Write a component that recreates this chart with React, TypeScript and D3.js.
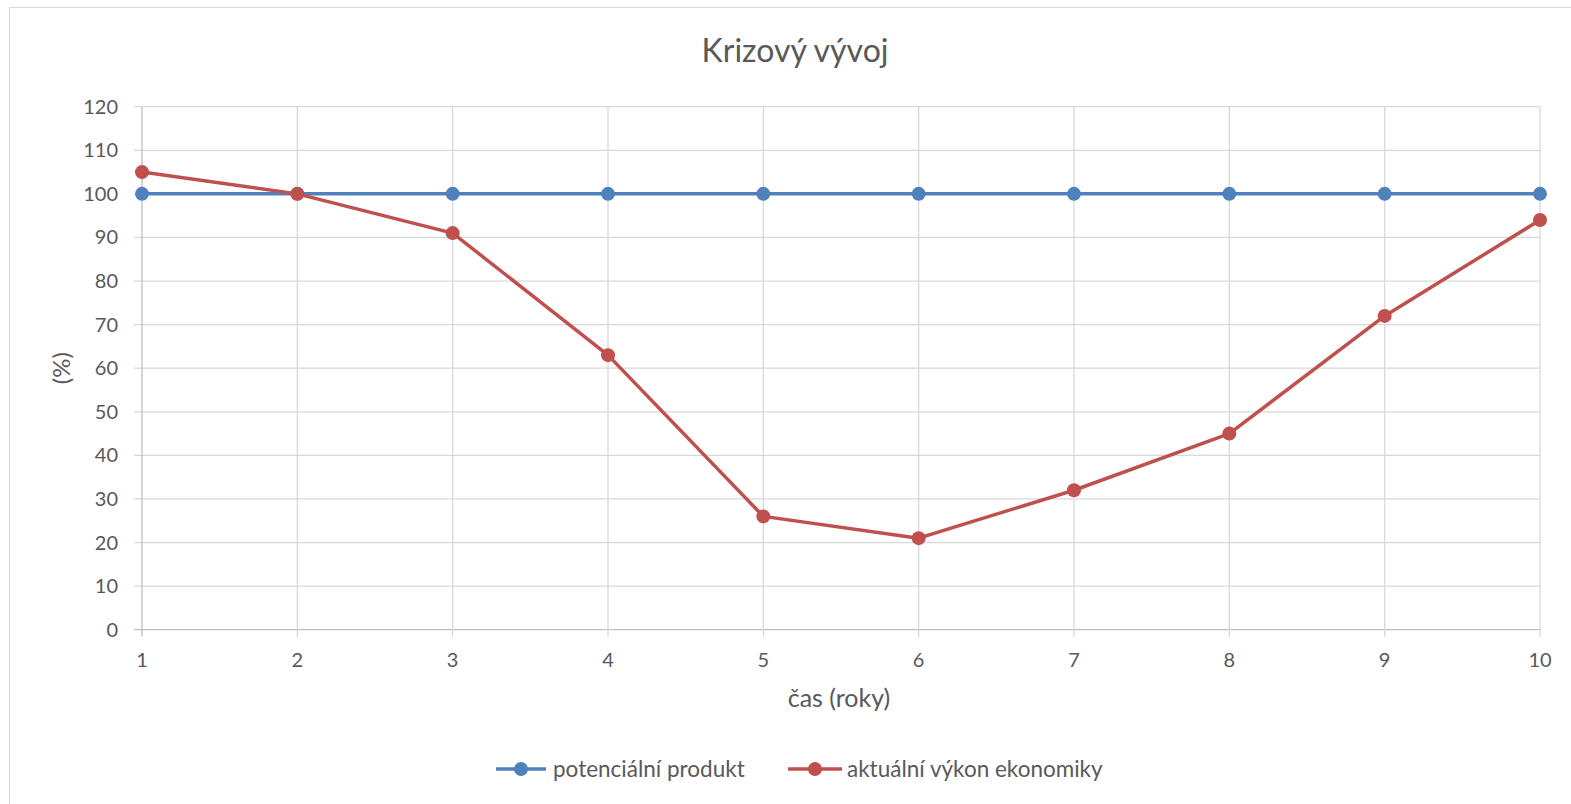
import React from "react";
import * as d3 from "d3";

const years = [1, 2, 3, 4, 5, 6, 7, 8, 9, 10];
const potencialni = [100, 100, 100, 100, 100, 100, 100, 100, 100, 100];
const aktualni = [105, 100, 91, 63, 26, 21, 32, 45, 72, 94];
const yTicks = [0, 10, 20, 30, 40, 50, 60, 70, 80, 90, 100, 110, 120];
const seriesNames = ["potenciální produkt", "aktuální výkon ekonomiky"];
const colors = ["#4F81BD", "#C0504D"];

const W = 1571;
const H = 804;
const left = 142;
const right = 1540;
const top = 106.7;
const bottom = 629.7;
const font = "Lato, 'Open Sans', sans-serif";
const textColor = "#595959";

export default function App() {
  const x = d3.scaleLinear().domain([1, 10]).range([left, right]);
  const y = d3.scaleLinear().domain([0, 120]).range([bottom, top]);
  const line = d3
    .line<number>()
    .x((_, i) => x(years[i]))
    .y((d) => y(d));
  const series = [potencialni, aktualni];

  return (
    <svg
      width={W}
      height={H}
      style={{ position: "absolute", left: 0, top: 0, background: "#fff" }}
    >
      <rect x={9.5} y={7.5} width={1580} height={820} fill="#fff" stroke="#D9D9D9" strokeWidth={1} />
      <text x={795} y={62} textAnchor="middle" fontFamily={font} fontSize={32} fill={textColor}>
        Krizový vývoj
      </text>
      {/* grid */}
      {yTicks.map((t) => (
        <line key={"gy" + t} x1={left - 8} x2={right} y1={y(t)} y2={y(t)} stroke={t === 0 ? "#BFBFBF" : "#D9D9D9"} strokeWidth={1.3} />
      ))}
      {years.map((v) => (
        <line key={"gx" + v} x1={x(v)} x2={x(v)} y1={top} y2={bottom + 7} stroke={v === 1 ? "#BFBFBF" : "#D9D9D9"} strokeWidth={1.3} />
      ))}
      {yTicks.map((t) => (
        <text key={"ty" + t} x={118} y={y(t)} dy="0.35em" textAnchor="end" fontFamily={font} fontSize={20} fill={textColor}>
          {t}
        </text>
      ))}
      {years.map((v) => (
        <text key={"tx" + v} x={x(v)} y={660} dy="0.35em" textAnchor="middle" fontFamily={font} fontSize={20} fill={textColor}>
          {v}
        </text>
      ))}
      <text transform={`translate(62,${(top + bottom) / 2}) rotate(-90)`} textAnchor="middle" dy="0.35em" fontFamily={font} fontSize={24} fill={textColor}>
        (%)
      </text>
      <text x={(left + right) / 2 - 2} y={707} textAnchor="middle" fontFamily={font} fontSize={25} fill={textColor}>
        čas (roky)
      </text>
      {series.map((s, si) => (
        <g key={"s" + si}>
          <path d={line(s) || ""} fill="none" stroke={colors[si]} strokeWidth={3.5} strokeLinejoin="round" />
          {s.map((v, i) => (
            <circle key={i} cx={x(years[i])} cy={y(v)} r={7} fill={colors[si]} />
          ))}
        </g>
      ))}
      {/* legend */}
      {[
        { x0: 496, x1: 546, tx: 553 },
        { x0: 788, x1: 842, tx: 847 },
      ].map((l, i) => (
        <g key={"l" + i}>
          <line x1={l.x0} x2={l.x1} y1={769} y2={769} stroke={colors[i]} strokeWidth={3.5} />
          <circle cx={(l.x0 + l.x1) / 2} cy={769} r={7} fill={colors[i]} />
          <text x={l.tx} y={769} dy="0.35em" fontFamily={font} fontSize={22.5} fill={textColor}>
            {seriesNames[i]}
          </text>
        </g>
      ))}
    </svg>
  );
}
